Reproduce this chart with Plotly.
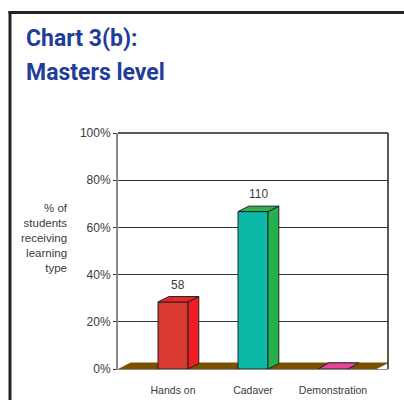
import plotly.graph_objects as go

# ---- data ----
categories = ["Hands on", "Cadaver", "Demonstration"]
percent_values = [28.4, 66.7, 0.0]
count_labels = ["58", "110", ""]
y_tick_values = [0, 20, 40, 60, 80, 100]
y_tick_labels = ["0%", "20%", "40%", "60%", "80%", "100%"]

# ---- style ----
front_colors = ["#d93a2f", "#0cb8a6", "#ec4399"]
side_colors = ["#ee1c24", "#22b14c", "#ec4399"]
top_colors = ["#e8262b", "#2bb24f", "#ec4399"]
floor_color = "#7b5100"
edge = "#222222"
txt = "#3a3a3a"
FONT = "Liberation Sans, Arial, sans-serif"
TFONT = "Roboto, sans-serif"

bar_w = 0.375
dx = 0.135   # depth in x units
dy = 2.3     # depth in y units
x_range = [-0.6875, 2.6875]

fig = go.Figure()

# floor
fx0, fx1 = -0.68, 2.54
fdx, fdy = 0.15, 2.6
fig.add_trace(go.Scatter(
    x=[fx0, fx1, fx1 + fdx, fx0 + fdx, fx0],
    y=[0, 0, fdy, fdy, 0],
    fill="toself", fillcolor=floor_color, mode="lines",
    line=dict(color=floor_color, width=0.5), hoverinfo="skip", showlegend=False))

for i, (cat, v) in enumerate(zip(categories, percent_values)):
    xl, xr = i - bar_w / 2, i + bar_w / 2
    if v > 0:
        fig.add_trace(go.Scatter(
            x=[xl, xr, xr, xl, xl], y=[0, 0, v, v, 0],
            fill="toself", fillcolor=front_colors[i], mode="lines",
            line=dict(color=edge, width=1), hoverinfo="skip", showlegend=False))
        fig.add_trace(go.Scatter(
            x=[xr, xr + dx, xr + dx, xr, xr], y=[0, dy, v + dy, v, 0],
            fill="toself", fillcolor=side_colors[i], mode="lines",
            line=dict(color=edge, width=1), hoverinfo="skip", showlegend=False))
        tdy = dy
    else:
        tdy = fdy
    fig.add_trace(go.Scatter(
        x=[xl, xr, xr + dx, xl + dx, xl], y=[v, v, v + tdy, v + tdy, v],
        fill="toself", fillcolor=top_colors[i], mode="lines",
        line=dict(color=edge, width=1), hoverinfo="skip", showlegend=False))
    if count_labels[i]:
        fig.add_annotation(x=i + dx / 2, y=v + dy, text=count_labels[i],
                           showarrow=False, yanchor="bottom", yshift=3,
                           font=dict(family=FONT, size=12, color=txt))

L, R, T, B = 118, 388, 133, 369
pw, ph = R - L, B - T

def px_x(p):
    return (p - L) / pw

def px_y(p):
    return (B - p) / ph

shapes = [
    dict(type="line", xref="paper", yref="paper", x0=1, x1=1, y0=0, y1=1,
         line=dict(color=edge, width=1.5)),
    dict(type="line", xref="paper", yref="paper", x0=0, x1=1, y0=1, y1=1,
         line=dict(color=edge, width=1.5)),
    dict(type="line", xref="paper", yref="paper", x0=px_x(10), x1=px_x(10),
         y0=px_y(412), y1=px_y(11), line=dict(color="#222", width=3)),
    dict(type="line", xref="paper", yref="paper", x0=px_x(8.5), x1=px_x(420),
         y0=px_y(12.5), y1=px_y(12.5), line=dict(color="#222", width=3)),
]

fig.add_annotation(xref="paper", yref="paper", x=px_x(24), y=px_y(39),
                   xanchor="left", yanchor="middle", text="<b>Chart 3(b):</b>",
                   showarrow=False, font=dict(family=TFONT, size=23, color="#1f3d99"))
fig.add_annotation(xref="paper", yref="paper", x=px_x(24), y=px_y(72),
                   xanchor="left", yanchor="middle", text="<b>Masters level</b>",
                   showarrow=False, font=dict(family=TFONT, size=23, color="#1f3d99"))
fig.add_annotation(xref="paper", yref="paper", x=px_x(70), y=px_y(237.5),
                   xanchor="right", yanchor="middle", align="right",
                   text="% of<br>students<br>receiving<br>learning<br>type",
                   showarrow=False, font=dict(family=FONT, size=11.5, color=txt))

fig.update_layout(
    width=404, height=400,
    margin=dict(l=L, r=404 - R, t=T, b=400 - B),
    paper_bgcolor="white", plot_bgcolor="white",
    showlegend=False, shapes=shapes,
    font=dict(family=FONT, color=txt),
)
fig.update_xaxes(range=x_range, tickvals=[0, 1, 2], ticktext=categories,
                 showgrid=False, zeroline=False, showline=True,
                 linecolor="#8a8a8a", linewidth=1, ticks="",
                 ticklabelstandoff=11, automargin=False,
                 tickfont=dict(family=FONT, size=10.5, color=txt), fixedrange=True)
fig.update_yaxes(range=[0, 100], tickvals=y_tick_values, ticktext=y_tick_labels,
                 showgrid=True, gridcolor="#333", gridwidth=1,
                 zeroline=False, showline=True, linecolor="#8a8a8a", linewidth=2,
                 ticks="outside", ticklen=3, tickcolor="#333", automargin=False,
                 tickfont=dict(family=FONT, size=12, color=txt), fixedrange=True)

fig.write_html("out.html", config={"displayModeBar": False},
               post_script="document.body.style.margin='0';")
